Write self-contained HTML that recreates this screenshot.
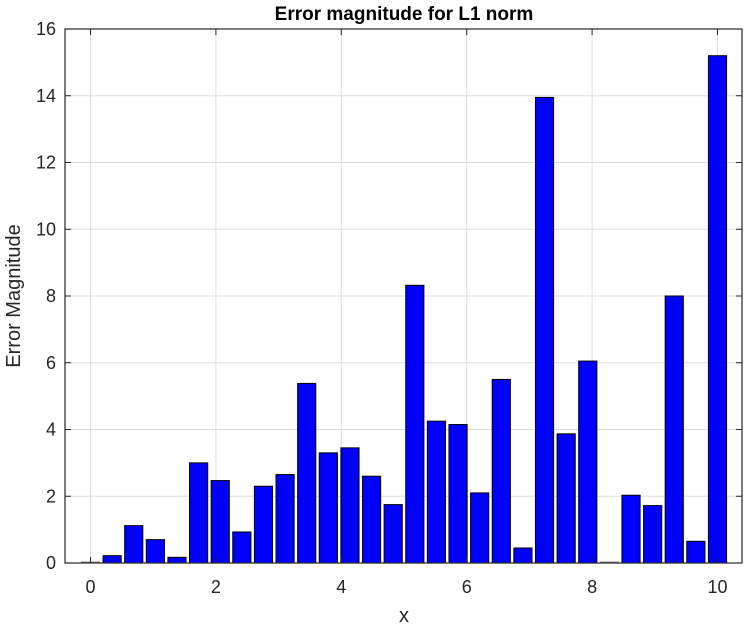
<!DOCTYPE html>
<html><head><meta charset="utf-8"><style>
body{margin:0;background:#fff;width:746px;height:627px;overflow:hidden}
svg text{font-family:"Liberation Sans",Arial,sans-serif}
</style></head><body>
<svg id="chart" width="746" height="627" xmlns="http://www.w3.org/2000/svg"></svg>
<script>
const values=[0.02,0.22,1.12,0.7,0.17,3.0,2.47,0.93,2.3,2.65,5.38,3.3,3.45,2.6,1.75,8.32,4.25,4.15,2.1,5.5,0.45,13.95,3.87,6.05,0.02,2.03,1.72,8.0,0.65,15.2];
const xTicks=[0,2,4,6,8,10];
const yTicks=[0,2,4,6,8,10,12,14,16];
const NS="http://www.w3.org/2000/svg";
const svg=document.getElementById('chart');
const L=65,R=742,T=29,B=563;
const x0=90.5,x10=717.5;
function sx(v){return x0+(x10-x0)*v/10;}
function sy(v){return B-(B-T)*v/16;}
function mk(t,a){const e=document.createElementNS(NS,t);for(const k in a)e.setAttribute(k,a[k]);svg.appendChild(e);return e;}
const bg=mk('rect',{x:L,y:T,width:R-L,height:B-T,fill:'#fff'});


xTicks.forEach(v=>{const g=mk('line',{x1:sx(v),x2:sx(v),y1:T,y2:B,stroke:'#dcdcdc','stroke-width':1});

});
yTicks.forEach(v=>{const g=mk('line',{x1:L,x2:R,y1:sy(v),y2:sy(v),stroke:'#dcdcdc','stroke-width':1});

});
const n=values.length,step=10/(n-1),bw=(x10-x0)*step/10*0.84;
values.forEach((v,i)=>{const xc=sx(i*step);const y=sy(v);
const r=mk('rect',{x:xc-bw/2,y:Math.min(y,B-1),width:bw,height:Math.max(B-y,1),fill:v<0.05?'#888':'#0000ff',stroke:v<0.05?'#888':'#000','stroke-width':1});

});
const fr=mk('rect',{x:L,y:T,width:R-L,height:B-T,fill:'none',stroke:'#262626','stroke-width':1.2});


xTicks.forEach(v=>{mk('line',{x1:sx(v),x2:sx(v),y1:B,y2:B-6,stroke:'#262626'});mk('line',{x1:sx(v),x2:sx(v),y1:T,y2:T+6,stroke:'#262626'});
const t=mk('text',{x:sx(v),y:B+30,'text-anchor':'middle','font-size':18,fill:'#262626'});t.textContent=v;

});
yTicks.forEach(v=>{mk('line',{x1:L,x2:L+6,y1:sy(v),y2:sy(v),stroke:'#262626'});mk('line',{x1:R,x2:R-6,y1:sy(v),y2:sy(v),stroke:'#262626'});
const t=mk('text',{x:L-9,y:sy(v)+6,'text-anchor':'end','font-size':18,fill:'#262626'});t.textContent=v;

});
const ti=mk('text',{x:404,y:20,'text-anchor':'middle','font-size':19,'font-weight':'bold',fill:'#000'});ti.textContent='Error magnitude for L1 norm';


const xl=mk('text',{x:404,y:622,'text-anchor':'middle','font-size':20,fill:'#262626'});xl.textContent='x';


const yl=mk('text',{x:0,y:0,'text-anchor':'middle','font-size':20,fill:'#262626',transform:'translate(20,296) rotate(-90)'});yl.textContent='Error Magnitude';


</script>
</body></html>
